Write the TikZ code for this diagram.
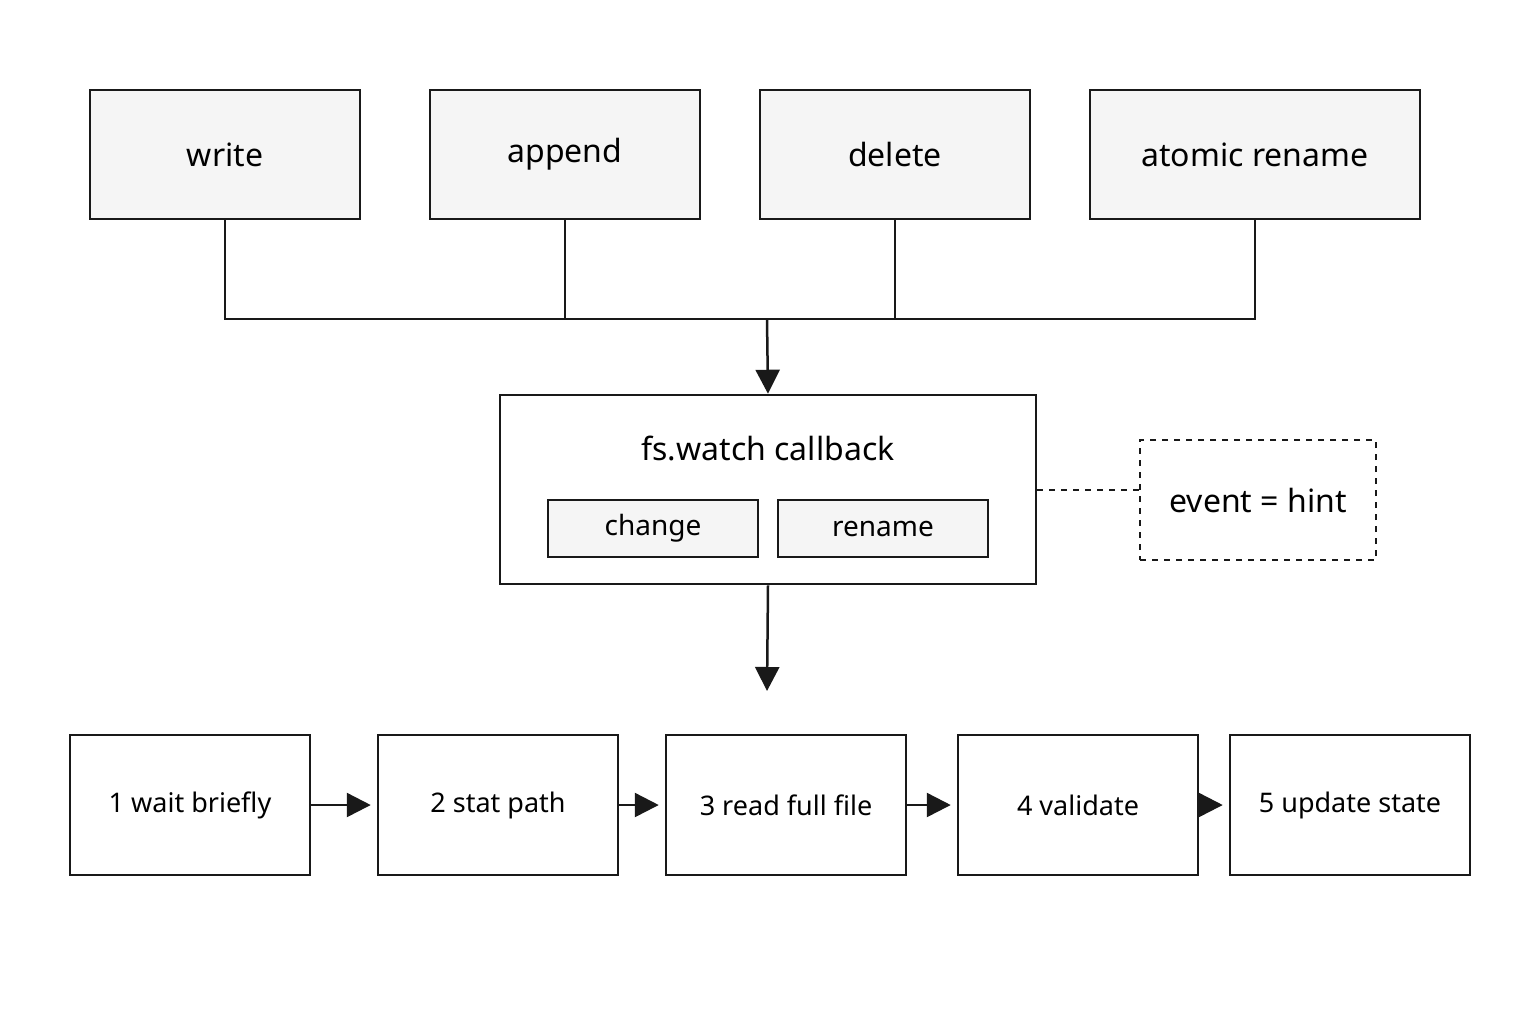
\documentclass[tikz,border=0pt]{standalone}
\usepackage{fontspec}
\setmainfont{Noto Sans}
\usetikzlibrary{arrows.meta}
\definecolor{boxfill}{HTML}{F5F5F5}
\begin{document}
\begin{tikzpicture}[x=0.5pt,y=-0.5pt,
  ln/.style={line width=1.25pt,draw=black!90},
  bx/.style={ln,rectangle,inner sep=0pt,font=\bfseries\fontsize{16}{19}\selectfont},
  gbx/.style={bx,fill=boxfill},
  stp/.style={bx,fill=white,minimum width=120pt,minimum height=70pt,font=\bfseries\fontsize{13.5}{16}\selectfont},
  arr/.style={ln,-{Triangle[length=12pt,width=12pt]}}]
\useasboundingbox (0,0) rectangle (1536,1024);
\node[gbx,minimum width=135pt,minimum height=64.5pt] (w) at (225,154.5) {write};
\node[gbx,minimum width=135pt,minimum height=64.5pt] (a) at (565,154.5) {append};
\node[gbx,minimum width=135pt,minimum height=64.5pt] (d) at (895,154.5) {delete};
\node[gbx,minimum width=165pt,minimum height=64.5pt] (r) at (1255,154.5) {atomic rename};
\coordinate (bus) at (767,319);
\draw[ln] (w.south) |- (r.south |- bus) -- (r.south);
\draw[ln] (a.south) -- (a.south |- bus);
\draw[ln] (d.south) -- (d.south |- bus);
\node[bx,fill=white,minimum width=268pt,minimum height=94.5pt] (fs) at (768,489.5) {};
\node[font=\bfseries\fontsize{16}{19}\selectfont] (fst) at (768,448) {fs.watch callback};
\node[gbx,minimum width=105pt,minimum height=28.5pt,font=\bfseries\fontsize{14}{17}\selectfont] (ch) at (653,528.5) {change};
\node[gbx,minimum width=105pt,minimum height=28.5pt,font=\bfseries\fontsize{14}{17}\selectfont] (rn) at (883,528.5) {rename};
\draw[arr] (bus) -- (fs.north);
\node[bx,dashed,fill=white,minimum width=118pt,minimum height=60pt] (h) at (1258,500) {event = hint};
\draw[ln,dashed] (fs.east |- 0,490) -- (h.west |- 0,490);
\coordinate (fr) at (767,691);
\draw[arr] (fs.south) -- (fr);
\node[stp] (s1) at (190,805) {1 wait briefly};
\node[stp] (s2) at (498,805) {2 stat path};
\node[stp] (s3) at (786,805) {3 read full file};
\node[stp] (s4) at (1078,805) {4 validate};
\node[stp] (s5) at (1350,805) {5 update state};
\draw[arr] (s1) -- ([xshift=-3pt]s2.west);
\draw[arr] (s2) -- ([xshift=-3pt]s3.west);
\draw[arr] (s3) -- ([xshift=-3pt]s4.west);
\draw[arr] (s4) -- ([xshift=-3pt]s5.west);
\end{tikzpicture}
\end{document}
